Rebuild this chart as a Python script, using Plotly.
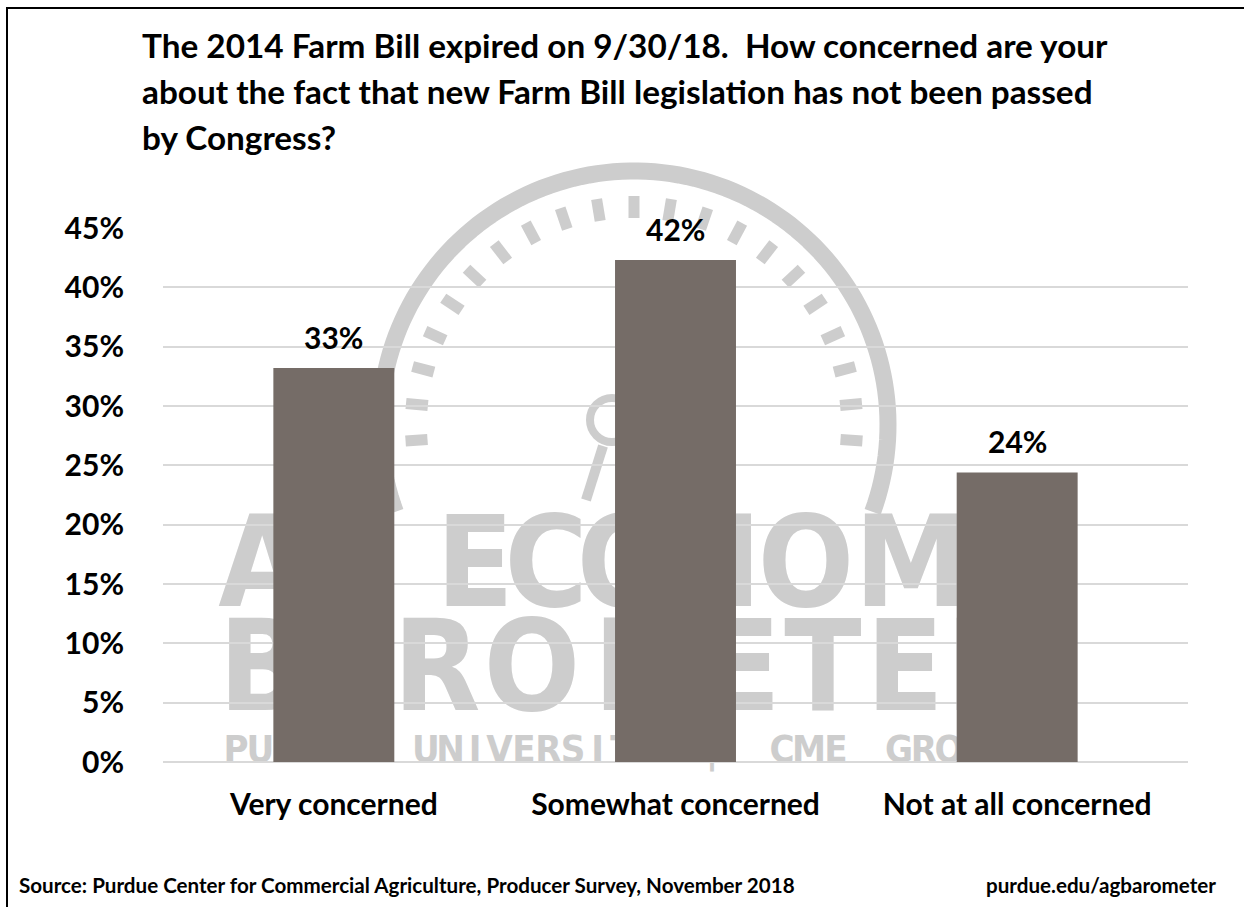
import numpy as np
import plotly.graph_objects as go

# ---- data -------------------------------------------------------------
categories = ["Very concerned", "Somewhat concerned", "Not at all concerned"]
shares = [0.332, 0.423, 0.244]
y_tick_values = [0, 0.05, 0.10, 0.15, 0.20, 0.25, 0.30, 0.35, 0.40, 0.45]
y_tick_labels = ["0%", "5%", "10%", "15%", "20%", "25%", "30%", "35%", "40%", "45%"]
title_lines = [
    "The 2014 Farm Bill expired on 9/30/18.  How concerned are your",
    "about the fact that new Farm Bill legislation has not been passed",
    "by Congress?",
]
source_text = "Source: Purdue Center for Commercial Agriculture, Producer Survey, November 2018"
site_text = "purdue.edu/agbarometer"

# ---- styling ----------------------------------------------------------
BAR_COLOR = "#756C67"
GRID_COLOR = "#D9D9D9"
MARK_COLOR = "#CDCDCD"
FONT = "Lato, 'Open Sans', 'Liberation Sans', sans-serif"
MARK_FONT = "'Liberation Sans Narrow', 'DejaVu Sans Condensed', 'Roboto Condensed', 'Liberation Sans', sans-serif"

W, H = 1244, 907
ML, MR, MT, MB = 163, 56, 228, 145
PW, PH = W - ML - MR, H - MT - MB


def px(x):
    """Page pixel column -> paper x."""
    return (x - ML) / PW


def py(y):
    """Page pixel row -> paper y."""
    return (H - MB - y) / PH


shapes = []

# ---- background logo (drawn beneath gridlines and bars) ---------------
cx, cy = 634, 425

# outer gauge arc
theta = np.radians(np.linspace(-20, 200, 120))
r_arc = 254
pts = [(px(cx + r_arc * np.cos(t)), py(cy - r_arc * np.sin(t))) for t in theta]
arc_path = "M " + " L ".join(f"{a:.5f},{b:.5f}" for a, b in pts)
shapes.append(dict(type="path", xref="paper", yref="paper", path=arc_path,
                   line=dict(color=MARK_COLOR, width=17), layer="below"))

# gauge tick dashes
for deg in np.linspace(184, -4, 21):
    t = np.radians(deg)
    shapes.append(dict(type="line", xref="paper", yref="paper",
                       x0=px(cx + 207 * np.cos(t)), y0=py(cy - 207 * np.sin(t)),
                       x1=px(cx + 229 * np.cos(t)), y1=py(cy - 229 * np.sin(t)),
                       line=dict(color=MARK_COLOR, width=11), layer="below"))

# magnifier emblem
shapes.append(dict(type="circle", xref="paper", yref="paper",
                   x0=px(590), x1=px(634), y0=py(442), y1=py(398),
                   line=dict(color=MARK_COLOR, width=8), layer="below"))
shapes.append(dict(type="line", xref="paper", yref="paper",
                   x0=px(603), y0=py(446), x1=px(586), y1=py(500),
                   line=dict(color=MARK_COLOR, width=10), layer="below"))


def letter(ch, xc, top, bottom, size):
    shapes.append(dict(type="rect", xref="paper", yref="paper",
                       x0=px(xc - 30), x1=px(xc + 30), y0=py(bottom), y1=py(top),
                       line=dict(width=0), fillcolor="rgba(0,0,0,0)", layer="below",
                       label=dict(text=ch, textposition="middle center",
                                  font=dict(family=MARK_FONT, size=size,
                                            color=MARK_COLOR, weight="bold"))))


row1 = [("A", 262), ("G", 344), ("E", 475), ("C", 546), ("O", 625), ("N", 714),
        ("O", 806), ("M", 911), ("Y", 1002)]
row2 = [("B", 262), ("A", 347), ("R", 437), ("O", 532), ("M", 650), ("E", 742),
        ("T", 823), ("E", 905), ("R", 990)]
for ch, xc in row1:
    letter(ch, xc, 507, 600, 126)
for ch, xc in row2:
    letter(ch, xc, 610, 705, 126)

row3_words = [("PURDUE", 236, 24.5), ("UNIVERSITY", 426, 24.5), ("|", 712, 0),
              ("CME", 782, 27), ("GROUP", 899, 25)]
for word, x_start, pitch in row3_words:
    for i, ch in enumerate(word):
        letter(ch, x_start + i * pitch, 730, 762, 38)

# ---- outer frame ------------------------------------------------------
shapes.append(dict(type="rect", xref="paper", yref="paper",
                   x0=px(7), x1=px(W + 20), y0=py(H + 20), y1=py(8),
                   line=dict(color="#000000", width=2), fillcolor="rgba(0,0,0,0)",
                   layer="above"))

fig = go.Figure()
fig.add_trace(go.Bar(
    x=categories, y=shares, marker=dict(color=BAR_COLOR, line=dict(width=0)),
    hoverinfo="skip",
))

annotations = []
# value labels above bars
for cat, val in zip(categories, shares):
    annotations.append(dict(x=cat, y=val, xref="x", yref="y", text=f"{val:.0%}",
                            showarrow=False, yanchor="bottom", yshift=11,
                            font=dict(family=FONT, size=30, color="#000000",
                                      weight="bold")))

# title lines
for line, yc in zip(title_lines, [45, 91, 137]):
    annotations.append(dict(x=px(140), y=py(yc), xref="paper", yref="paper",
                            text=line, showarrow=False, xanchor="left",
                            yanchor="middle",
                            font=dict(family=FONT, size=33.3, color="#000000",
                                      weight="bold")))

annotations.append(dict(x=px(17), y=py(885), xref="paper", yref="paper",
                        text=source_text, showarrow=False, xanchor="left",
                        yanchor="middle",
                        font=dict(family=FONT, size=20.6, color="#000000",
                                  weight="bold")))
annotations.append(dict(x=px(1218), y=py(885), xref="paper", yref="paper",
                        text=site_text, showarrow=False, xanchor="right",
                        yanchor="middle",
                        font=dict(family=FONT, size=20.6, color="#000000",
                                  weight="bold")))

fig.update_layout(
    width=W, height=H,
    margin=dict(l=ML, r=MR, t=MT, b=MB, pad=0),
    paper_bgcolor="#FFFFFF", plot_bgcolor="rgba(0,0,0,0)",
    showlegend=False, bargap=0.646,
    shapes=shapes, annotations=annotations,
    font=dict(family=FONT, color="#000000"),
)
fig.update_xaxes(
    showgrid=False, zeroline=False, showline=False,
    ticks="outside", ticklen=16, tickcolor="rgba(0,0,0,0)",
    tickfont=dict(family=FONT, size=30, color="#000000", weight="bold"),
    fixedrange=True,
)
fig.update_yaxes(
    range=[0, 0.45], tickvals=y_tick_values, ticktext=y_tick_labels,
    showgrid=True, gridcolor=GRID_COLOR, gridwidth=1.5,
    zeroline=True, zerolinecolor=GRID_COLOR, zerolinewidth=1.5, showline=False,
    ticks="outside", ticklen=32, tickcolor="rgba(0,0,0,0)",
    tickfont=dict(family=FONT, size=30, color="#000000", weight="bold"),
    fixedrange=True,
)

fig.write_html("out.html", config={"displayModeBar": False})
